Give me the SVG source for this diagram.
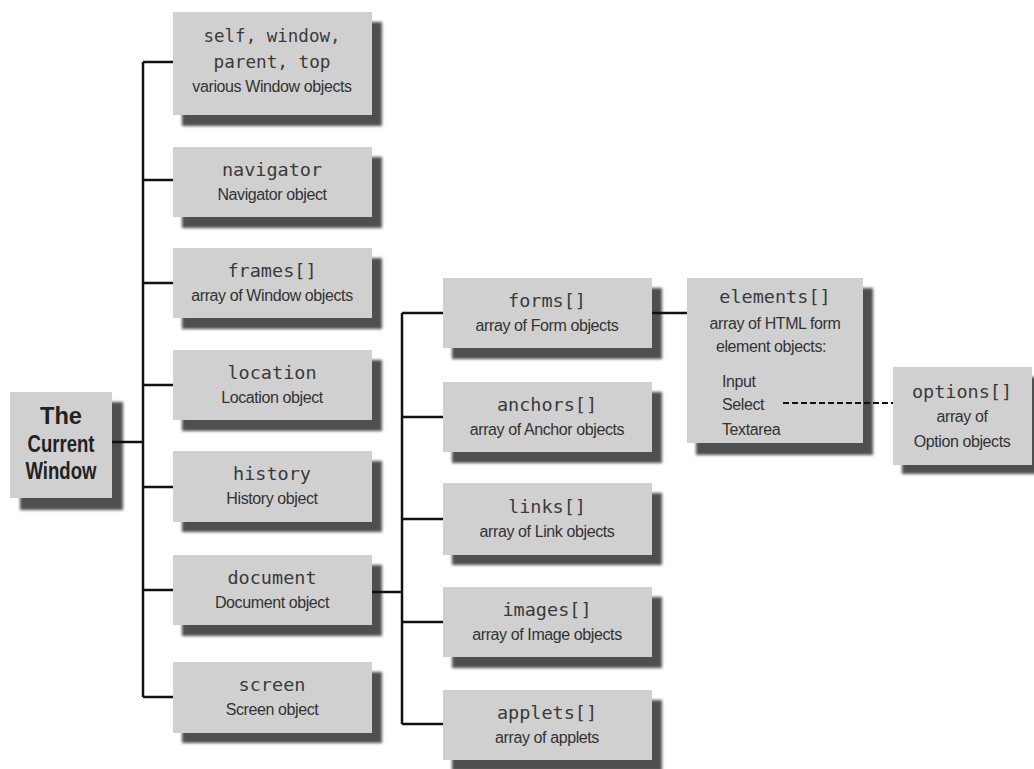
<svg xmlns="http://www.w3.org/2000/svg" width="1034" height="769" viewBox="0 0 1034 769">
<defs>
<filter id="blur" x="-10%" y="-10%" width="120%" height="120%"><feGaussianBlur stdDeviation="1.5"/></filter>
</defs>
<style>
.sh{fill:#505050;filter:url(#blur)}
.bx{fill:#d0d0d0}
.code{font-family:"DejaVu Sans Mono","Liberation Mono",monospace;font-size:18.5px;fill:#3a3a3a;text-anchor:middle}
.sub{font-family:"Liberation Sans Narrow","Liberation Sans",sans-serif;font-size:16px;fill:#333;text-anchor:middle;letter-spacing:-0.4px}
.subl{font-family:"Liberation Sans Narrow","Liberation Sans",sans-serif;font-size:16px;fill:#333;letter-spacing:-0.4px}
.big{font-family:"Liberation Sans Narrow","Liberation Sans",sans-serif;font-size:24px;font-weight:bold;fill:#222;text-anchor:middle}
.ln{stroke:#111;stroke-width:2.5;fill:none}
.dash{stroke:#111;stroke-width:2;fill:none;stroke-dasharray:6,3}
</style>
<rect width="1034" height="769" fill="#fff"/>
<g id="current">
<rect class="sh" x="20" y="402" width="103" height="108"/>
<rect class="bx" x="10" y="392" width="102" height="106"/>
<text class="big" x="61" y="424" textLength="42" lengthAdjust="spacingAndGlyphs">The</text>
<text class="big" x="61" y="452" textLength="67" lengthAdjust="spacingAndGlyphs">Current</text>
<text class="big" x="61" y="479" textLength="71" lengthAdjust="spacingAndGlyphs">Window</text>
</g>
<g id="self">
<rect class="sh" x="182" y="22" width="200" height="104"/>
<rect class="bx" x="173" y="12" width="199" height="103"/>
<text class="code" x="272" y="42" textLength="137" lengthAdjust="spacingAndGlyphs">self, window,</text>
<text class="code" x="272" y="68" textLength="117" lengthAdjust="spacingAndGlyphs">parent, top</text>
<text class="sub" x="272" y="92">various Window objects</text>
</g>
<g id="navigator">
<rect class="sh" x="182" y="157" width="200" height="71"/>
<rect class="bx" x="173" y="147" width="199" height="70"/>
<text class="code" x="272" y="176">navigator</text>
<text class="sub" x="272" y="200">Navigator object</text>
</g>
<g id="frames">
<rect class="sh" x="182" y="258" width="200" height="71"/>
<rect class="bx" x="173" y="248" width="199" height="70"/>
<text class="code" x="272" y="277">frames[]</text>
<text class="sub" x="272" y="301">array of Window objects</text>
</g>
<g id="location">
<rect class="sh" x="182" y="360" width="200" height="71"/>
<rect class="bx" x="173" y="350" width="199" height="70"/>
<text class="code" x="272" y="379">location</text>
<text class="sub" x="272" y="403">Location object</text>
</g>
<g id="history">
<rect class="sh" x="182" y="461" width="200" height="71"/>
<rect class="bx" x="173" y="451" width="199" height="71"/>
<text class="code" x="272" y="480">history</text>
<text class="sub" x="272" y="504">History object</text>
</g>
<g id="document">
<rect class="sh" x="182" y="565" width="200" height="71"/>
<rect class="bx" x="173" y="555" width="199" height="70"/>
<text class="code" x="272" y="584">document</text>
<text class="sub" x="272" y="608">Document object</text>
</g>
<g id="screen">
<rect class="sh" x="182" y="672" width="200" height="71"/>
<rect class="bx" x="173" y="662" width="199" height="71"/>
<text class="code" x="272" y="691">screen</text>
<text class="sub" x="272" y="715">Screen object</text>
</g>
<g id="forms">
<rect class="sh" x="452" y="288" width="210" height="71"/>
<rect class="bx" x="443" y="278" width="209" height="70"/>
<text class="code" x="547" y="307">forms[]</text>
<text class="sub" x="547" y="331">array of Form objects</text>
</g>
<g id="anchors">
<rect class="sh" x="452" y="392" width="210" height="71"/>
<rect class="bx" x="443" y="382" width="209" height="70"/>
<text class="code" x="547" y="411">anchors[]</text>
<text class="sub" x="547" y="435">array of Anchor objects</text>
</g>
<g id="links">
<rect class="sh" x="452" y="493" width="210" height="72"/>
<rect class="bx" x="443" y="483" width="209" height="72"/>
<text class="code" x="547" y="513">links[]</text>
<text class="sub" x="547" y="537">array of Link objects</text>
</g>
<g id="images">
<rect class="sh" x="452" y="597" width="210" height="71"/>
<rect class="bx" x="443" y="587" width="209" height="70"/>
<text class="code" x="547" y="616">images[]</text>
<text class="sub" x="547" y="640">array of Image objects</text>
</g>
<g id="applets">
<rect class="sh" x="452" y="700" width="210" height="71"/>
<rect class="bx" x="443" y="690" width="209" height="70"/>
<text class="code" x="547" y="719">applets[]</text>
<text class="sub" x="547" y="743">array of applets</text>
</g>
<g id="elements">
<rect class="sh" x="696" y="288" width="177" height="167"/>
<rect class="bx" x="687" y="278" width="176" height="165"/>
<text class="code" x="775" y="303">elements[]</text>
<text class="sub" x="775" y="329">array of HTML form</text>
<text class="sub" x="771" y="352">element objects:</text>
<text class="subl" x="722" y="387">Input</text>
<text class="subl" x="722" y="410">Select</text>
<text class="subl" x="722" y="435">Textarea</text>
</g>
<g id="options">
<rect class="sh" x="902" y="377" width="140" height="97"/>
<rect class="bx" x="893" y="367" width="139" height="98"/>
<text class="code" x="962" y="398">options[]</text>
<text class="sub" x="962" y="422">array of</text>
<text class="sub" x="962" y="447">Option objects</text>
</g>
<g id="connectors">
<path class="ln" d="M112,442 H143 M143,62 V697 M143,62 H173 M143,180 H173 M143,283 H173 M143,385 H173 M143,487 H173 M143,590 H173 M143,697 H173"/>
<path class="ln" d="M372,592 H402 M402,313 V724 M402,313 H443 M402,417 H443 M402,519 H443 M402,622 H443 M402,724 H443"/>
<path class="ln" d="M652,313 H687"/>
<path class="dash" d="M783,403 H893"/>
</g>
</svg>
